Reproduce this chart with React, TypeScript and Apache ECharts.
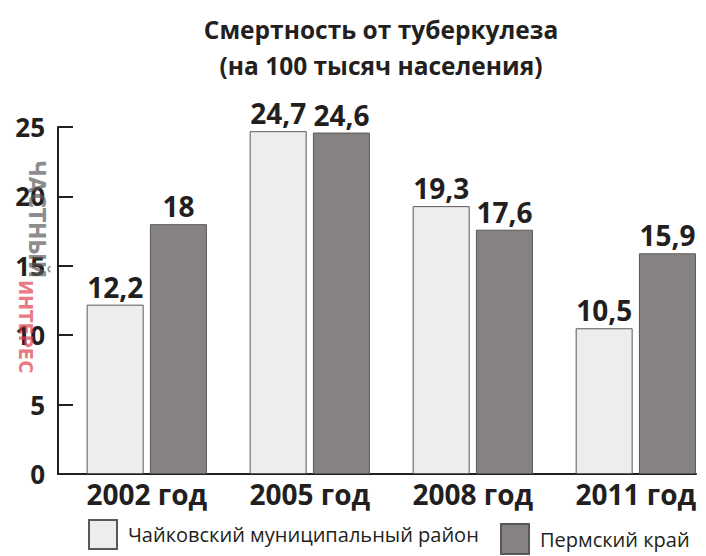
import React, { useEffect, useRef } from "react";
import * as echarts from "echarts";

const categories = ["2002 год", "2005 год", "2008 год", "2011 год"];
const chaykovskyName = "Чайковский муниципальный район";
const permName = "Пермский край";
const chaykovsky = [12.2, 24.7, 19.3, 10.5];
const perm = [18, 24.6, 17.6, 15.9];
const yMin = 0;
const yMax = 25;
const yInterval = 5;

const FONT = "'Open Sans', 'Noto Sans', sans-serif";
const INK = "#231f20";

export default function App() {
  const ref = useRef<HTMLDivElement>(null);
  useEffect(() => {
    document.body.style.margin = "0";
    if (!ref.current) return;
    const chart = echarts.init(ref.current, undefined, { renderer: "svg" });
    const fmt = (p: any) => String(p.value).replace(".", ",");
    const labelStyle = {
      show: true,
      position: "top",
      distance: 4,
      formatter: fmt,
      fontFamily: FONT,
      fontWeight: 700,
      fontSize: 28,
      color: INK,
    };
    chart.setOption({
      animation: false,
      backgroundColor: "#ffffff",
      title: {
        text: "Смертность от туберкулеза\n(на 100 тысяч населения)",
        left: 376,
        textAlign: "center",
        top: 6,
        textStyle: {
          fontFamily: FONT,
          fontWeight: 700,
          fontSize: 24.5,
          lineHeight: 36,
          color: INK,
        },
      },
      graphic: [
        {
          type: "text",
          x: 48,
          y: 160,
          rotation: -Math.PI / 2,
          style: {
            text: "ЧАСТНЫЙ",
            fontFamily: "'DejaVu Sans Condensed', " + FONT,
            fontWeight: 700,
            fontSize: 23,
            fill: "rgba(90,90,90,0.7)",
          },
          z: 100,
        },
        {
          type: "text",
          x: 36,
          y: 280,
          rotation: -Math.PI / 2,
          style: {
            text: "ИНТЕРЕС",
            fontFamily: "'DejaVu Sans Condensed', " + FONT,
            fontWeight: 700,
            fontSize: 20,
            fill: "rgba(225,60,80,0.7)",
          },
          z: 100,
        },
      ],
      legend: [
        {
          data: [chaykovskyName],
          left: 88,
          top: 519,
          padding: 0,
          icon: "rect",
          itemWidth: 28,
          itemHeight: 29,
          itemGap: 0,
          selectedMode: false,
          textStyle: {
            fontFamily: FONT,
            fontSize: 20,
            color: INK,
            padding: [6, 0, 0, 6],
          },
        },
        {
          data: [permName],
          left: 500,
          top: 523,
          padding: 0,
          icon: "rect",
          itemWidth: 28,
          itemHeight: 30,
          itemGap: 0,
          selectedMode: false,
          textStyle: {
            fontFamily: FONT,
            fontSize: 20,
            color: INK,
            padding: [6, 0, 0, 6],
          },
        },
      ],
      grid: [
        { left: 65.3, width: 652, top: 127, bottom: 82, outerBoundsMode: "none" },
        { left: 58, width: 638, top: 127, bottom: 82, outerBoundsMode: "none" },
      ],
      xAxis: [
        {
          type: "category",
          gridIndex: 0,
          data: categories,
          axisLine: { show: false },
          axisTick: { show: false },
          axisLabel: {
            margin: 6,
            fontFamily: FONT,
            fontWeight: 700,
            fontSize: 28,
            color: INK,
          },
        },
        {
          type: "value",
          gridIndex: 1,
          min: 0,
          max: 1,
          axisLine: { show: true, lineStyle: { color: INK, width: 2 } },
          axisTick: { show: false },
          axisLabel: { show: false },
          splitLine: { show: false },
        },
      ],
      yAxis: [
        {
          type: "value",
          gridIndex: 0,
          min: yMin,
          max: yMax,
          interval: yInterval,
          show: false,
        },
        {
          type: "value",
          gridIndex: 1,
          min: yMin,
          max: yMax,
          interval: yInterval,
          axisLine: { show: true, lineStyle: { color: INK, width: 2 } },
          axisTick: {
            show: true,
            inside: true,
            length: 15,
            lineStyle: { color: INK, width: 2 },
          },
          axisLabel: {
            margin: 13,
            fontFamily: FONT,
            fontWeight: 700,
            fontSize: 26,
            color: INK,
          },
          splitLine: { show: false },
        },
      ],
      series: [
        {
          name: chaykovskyName,
          type: "bar",
          xAxisIndex: 0,
          yAxisIndex: 0,
          data: chaykovsky,
          barWidth: 57,
          barGap: "11%",
          itemStyle: { color: "#eeedee", borderColor: "#5a5758", borderWidth: 1 },
          label: labelStyle,
        },
        {
          name: permName,
          type: "bar",
          xAxisIndex: 0,
          yAxisIndex: 0,
          data: perm,
          barWidth: 57,
          barGap: "11%",
          itemStyle: { color: "#858281", borderColor: "#5a5758", borderWidth: 1 },
          label: labelStyle,
        },
      ],
    });
    return () => chart.dispose();
  }, []);
  return <div ref={ref} style={{ width: 706, height: 556 }} />;
}
